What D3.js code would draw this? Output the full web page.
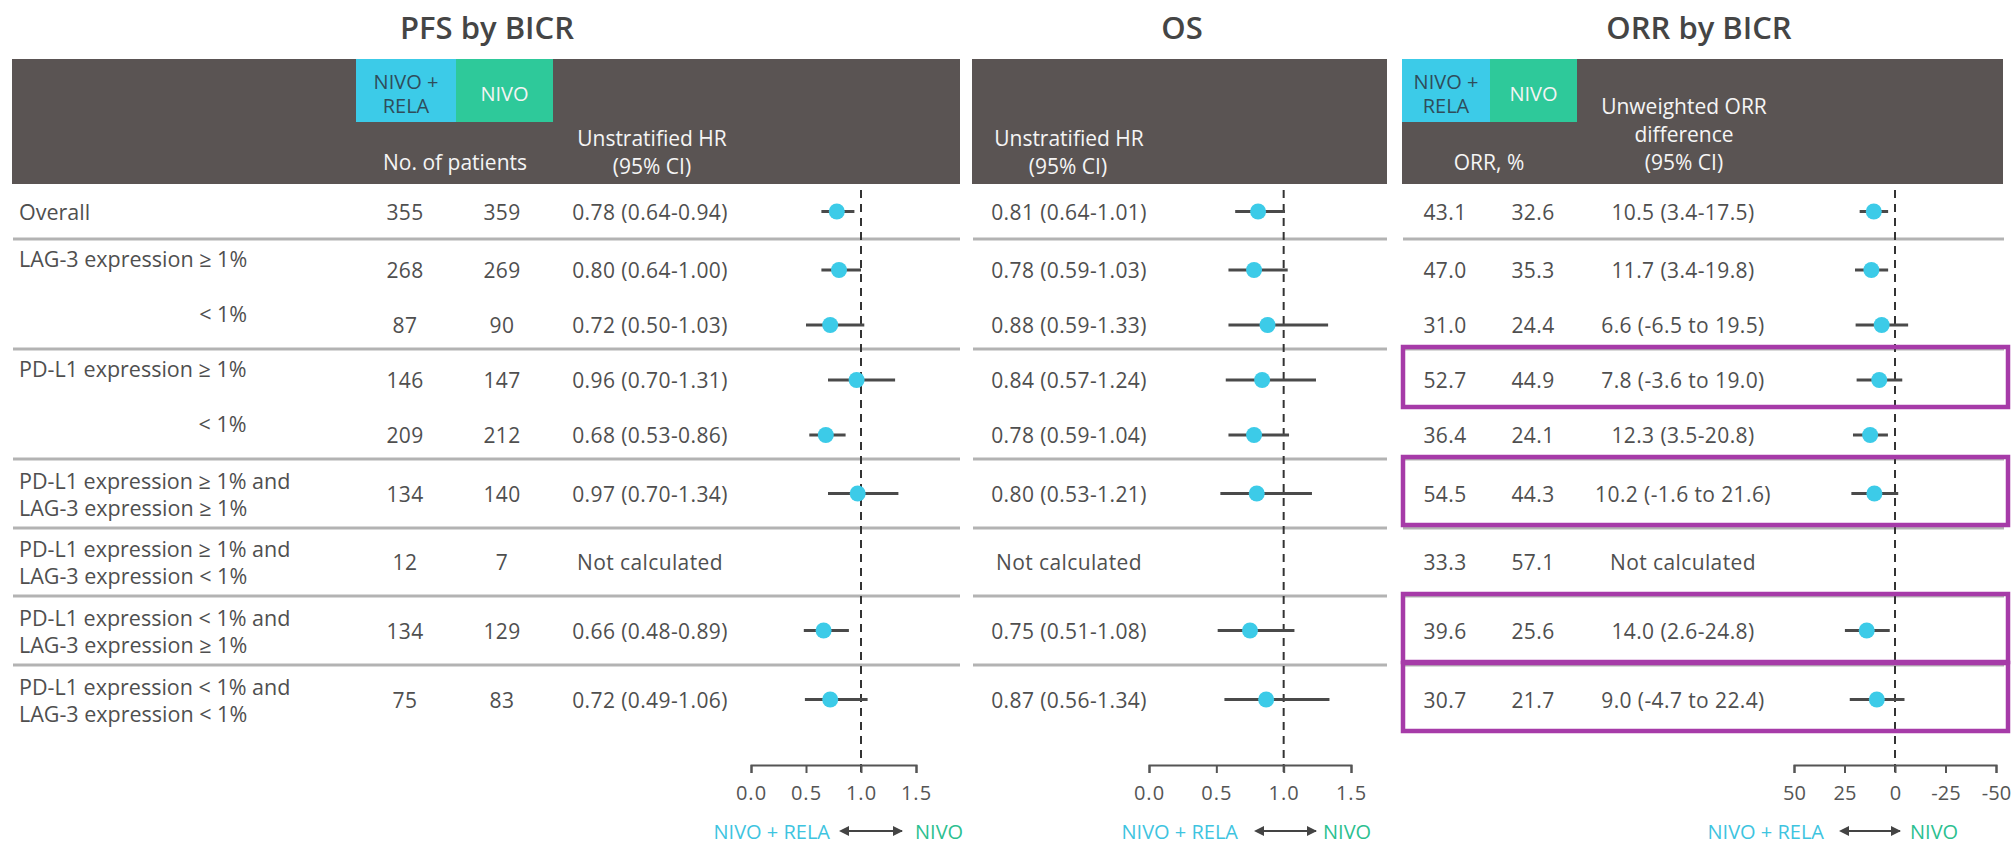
<!DOCTYPE html>
<html>
<head>
<meta charset="utf-8">
<script src="https://cdn.jsdelivr.net/npm/d3@7"></script>
<style>
  html, body { margin: 0; padding: 0; background: #fff; }
  svg { display: block; font-family: "Open Sans", "Noto Sans", sans-serif; }
</style>
</head>
<body>
<svg id="chart" width="2013" height="846"></svg>
<script>
// ---- Data ---------------------------------------------------------------
const rowLabels = [
  ["Overall"],
  ["LAG-3 expression \u2265 1%"],
  ["< 1%"],
  ["PD-L1 expression \u2265 1%"],
  ["< 1%"],
  ["PD-L1 expression \u2265 1% and", "LAG-3 expression \u2265 1%"],
  ["PD-L1 expression \u2265 1% and", "LAG-3 expression < 1%"],
  ["PD-L1 expression < 1% and", "LAG-3 expression \u2265 1%"],
  ["PD-L1 expression < 1% and", "LAG-3 expression < 1%"]
];
const nNivoRela = [355, 268, 87, 146, 209, 134, 12, 134, 75];
const nNivo     = [359, 269, 90, 147, 212, 140, 7, 129, 83];

const pfsHR = [0.78, 0.80, 0.72, 0.96, 0.68, 0.97, null, 0.66, 0.72];
const pfsLo = [0.64, 0.64, 0.50, 0.70, 0.53, 0.70, null, 0.48, 0.49];
const pfsHi = [0.94, 1.00, 1.03, 1.31, 0.86, 1.34, null, 0.89, 1.06];

const osHR = [0.81, 0.78, 0.88, 0.84, 0.78, 0.80, null, 0.75, 0.87];
const osLo = [0.64, 0.59, 0.59, 0.57, 0.59, 0.53, null, 0.51, 0.56];
const osHi = [1.01, 1.03, 1.33, 1.24, 1.04, 1.21, null, 1.08, 1.34];

const orrNivoRela = [43.1, 47.0, 31.0, 52.7, 36.4, 54.5, 33.3, 39.6, 30.7];
const orrNivo     = [32.6, 35.3, 24.4, 44.9, 24.1, 44.3, 57.1, 25.6, 21.7];
const orrDiff = [10.5, 11.7, 6.6, 7.8, 12.3, 10.2, null, 14.0, 9.0];
const orrLo   = [3.4, 3.4, -6.5, -3.6, 3.5, -1.6, null, 2.6, -4.7];
const orrHi   = [17.5, 19.8, 19.5, 19.0, 20.8, 21.6, null, 24.8, 22.4];

const hrTicks  = [0, 0.5, 1.0, 1.5];
const orrTicks = [50, 25, 0, -25, -50];
const highlightedRows = [3, 5, 7, 8];
const subRows = [1, 2, 3, 4];          // rows sharing a subgroup block
const separatorsAfter = [0, 2, 4, 5, 6, 7];

// ---- Styles -------------------------------------------------------------
const C = {
  header: "#5a5453",
  cyan: "#3ccbe8",
  green: "#2ec99a",
  text: "#4f4f4f",
  rule: "#b3b3b3",
  ci: "#4a4a4a",
  purple: "#a63ba8",
  legendCyan: "#3ec4df",
  legendGreen: "#2cbf90"
};

const svg = d3.select("#chart");
svg.append("rect").attr("width", 2013).attr("height", 846).attr("fill", "#fff");

// ---- Row geometry -------------------------------------------------------
const headerTop = 59, headerBottom = 184;
const rowHeights = [55, 55, 55, 55, 55, 69, 68, 69, 69];
const slotTop = [];
{ let y = headerBottom; rowHeights.forEach(h => { slotTop.push(y); y += h; }); }
const slotBottom = slotTop.map((t, i) => t + rowHeights[i]);
const rowY = slotTop.map((t, i) => t + rowHeights[i] / 2 + (subRows.includes(i) ? 3.5 : 0));

// Panels
const panels = [
  { x0: 12,   x1: 960,  title: "PFS by BICR", titleX: 487 },
  { x0: 972,  x1: 1387, title: "OS",          titleX: 1182 },
  { x0: 1402, x1: 2003, title: "ORR by BICR", titleX: 1699 }
];

// Scales
const xPfs = d3.scaleLinear().domain([0, 1.5]).range([751, 916]);
const xOs  = d3.scaleLinear().domain([0, 1.5]).range([1149, 1351]);
const xOrr = d3.scaleLinear().domain([50, -50]).range([1794, 1996]);

// ---- Titles & header bands ---------------------------------------------
panels.forEach(p => {
  svg.append("text").attr("x", p.titleX).attr("y", 39)
    .attr("text-anchor", "middle").attr("font-size", 31).attr("font-weight", 600)
    .attr("fill", "#454545").text(p.title);
  svg.append("rect").attr("x", p.x0).attr("y", headerTop)
    .attr("width", p.x1 - p.x0).attr("height", headerBottom - headerTop)
    .attr("fill", C.header);
});

function swatches(xStart, wCyan, wGreen) {
  svg.append("rect").attr("x", xStart).attr("y", headerTop).attr("width", wCyan)
    .attr("height", 63).attr("fill", C.cyan);
  svg.append("rect").attr("x", xStart + wCyan).attr("y", headerTop).attr("width", wGreen)
    .attr("height", 63).attr("fill", C.green);
  const cx = xStart + wCyan / 2;
  [["NIVO +", 81], ["RELA", 105]].forEach(([t, y]) =>
    svg.append("text").attr("x", cx).attr("y", y).attr("text-anchor", "middle")
      .attr("dominant-baseline", "central").attr("font-size", 20)
      .attr("fill", "#2f4d5b").text(t));
  svg.append("text").attr("x", xStart + wCyan + wGreen / 2).attr("y", 93)
    .attr("text-anchor", "middle").attr("dominant-baseline", "central")
    .attr("font-size", 20).attr("fill", "#f4f4f4").text("NIVO");
}
swatches(356, 100, 97);
swatches(1402, 88, 87);

function headText(x, y, t) {
  svg.append("text").attr("x", x).attr("y", y).attr("text-anchor", "middle")
    .attr("dominant-baseline", "central").attr("font-size", 21)
    .attr("fill", "#f5f5f5").text(t);
}
headText(455, 162, "No. of patients");
headText(652, 138, "Unstratified HR");
headText(652, 166, "(95% CI)");
headText(1069, 138, "Unstratified HR");
headText(1068, 166, "(95% CI)");
headText(1489, 162, "ORR, %");
headText(1684, 106, "Unweighted ORR");
headText(1684, 134, "difference");
headText(1684, 162, "(95% CI)");

// ---- Separators -------------------------------------------------------
separatorsAfter.forEach(i => {
  const y = slotBottom[i];
  panels.forEach((p, pi) => {
    svg.append("line").attr("x1", p.x0 + 1).attr("x2", p.x1 + (pi === 2 ? 1 : 0))
      .attr("y1", y).attr("y2", y).attr("stroke", C.rule).attr("stroke-width", 3);
  });
});

// ---- Row labels ---------------------------------------------------------
const labelG = svg.append("g").attr("font-size", 21.5).attr("fill", C.text);
let groupEnd = 0;
rowLabels.forEach((lines, i) => {
  const multi = lines.length > 1;
  const base = subRows.includes(i) ? rowY[i] - 12 : rowY[i];
  lines.forEach((t, k) => {
    const y = multi ? base + (k - 0.5) * 27 : base;
    const el = labelG.append("text").attr("y", y).attr("dominant-baseline", "central").text(t);
    if (t.startsWith("<")) {
      el.attr("x", groupEnd).attr("text-anchor", "end");
    } else {
      el.attr("x", 19);
      groupEnd = 19 + el.node().getComputedTextLength();
    }
  });
});

// ---- Value columns ------------------------------------------------------
const valG = svg.append("g").attr("font-size", 21).attr("fill", C.text)
  .attr("text-anchor", "middle").attr("letter-spacing", 0.4);
function cell(x, y, t) {
  valG.append("text").attr("x", x).attr("y", y).attr("dominant-baseline", "central").text(t);
}
const fmtHR = (h, l, u) => h == null ? "Not calculated"
  : `${h.toFixed(2)} (${l.toFixed(2)}-${u.toFixed(2)})`;
const fmtORR = (d, l, u) => d == null ? "Not calculated"
  : (l < 0 ? `${d.toFixed(1)} (${l.toFixed(1)} to ${u.toFixed(1)})`
           : `${d.toFixed(1)} (${l.toFixed(1)}-${u.toFixed(1)})`);

rowY.forEach((y, i) => {
  cell(405, y, nNivoRela[i]);
  cell(502, y, nNivo[i]);
  cell(650, y, fmtHR(pfsHR[i], pfsLo[i], pfsHi[i]));
  cell(1069, y, fmtHR(osHR[i], osLo[i], osHi[i]));
  cell(1445, y, orrNivoRela[i].toFixed(1));
  cell(1533, y, orrNivo[i].toFixed(1));
  cell(1683, y, fmtORR(orrDiff[i], orrLo[i], orrHi[i]));
});

// ---- Forest plots -------------------------------------------------------
function forest(x, est, lo, hi, ref, ticks, fmt, spacing) {
  // reference line
  svg.append("line").attr("x1", x(ref)).attr("x2", x(ref))
    .attr("y1", 190).attr("y2", 778)
    .attr("stroke", "#333").attr("stroke-width", 2).attr("stroke-dasharray", "8,6");
  const g = svg.append("g");
  est.forEach((e, i) => {
    if (e == null) return;
    g.append("line").attr("x1", x(lo[i])).attr("x2", x(hi[i]))
      .attr("y1", rowY[i]).attr("y2", rowY[i])
      .attr("stroke", C.ci).attr("stroke-width", 3);
    g.append("circle").attr("cx", x(e)).attr("cy", rowY[i]).attr("r", 8)
      .attr("fill", C.cyan);
  });
  const axis = d3.axisBottom(x).tickValues(ticks).tickFormat(fmt)
    .tickSize(8).tickSizeOuter(8).tickPadding(13);
  const ag = svg.append("g").attr("transform", "translate(0,765)").call(axis);
  ag.selectAll("path, line").attr("stroke", "#555").attr("stroke-width", 2);
  ag.selectAll("text").attr("font-size", 20).attr("fill", "#555")
    .attr("font-family", "Open Sans, sans-serif").attr("letter-spacing", spacing);
}
forest(xPfs, pfsHR, pfsLo, pfsHi, 1, hrTicks, d3.format(".1f"), 1);
forest(xOs, osHR, osLo, osHi, 1, hrTicks, d3.format(".1f"), 1);
forest(xOrr, orrDiff, orrLo, orrHi, 0, orrTicks, d => String(d), 0);

// ---- Highlight boxes ---------------------------------------------------
highlightedRows.forEach(i => {
  const top = slotTop[i] - 2;
  const bottom = slotBottom[i] - 3 + (subRows.includes(i) ? 6 : 0);
  svg.append("rect").attr("x", 1403).attr("y", top)
    .attr("width", 2008 - 1403).attr("height", bottom - top)
    .attr("fill", "none").attr("stroke", C.purple).attr("stroke-width", 4.5);
});

// ---- Direction legends ----------------------------------------------------
const defs = svg.append("defs");
["start", "end"].forEach(k => {
  defs.append("marker").attr("id", "arr-" + k).attr("viewBox", "0 0 10 10")
    .attr("refX", k === "end" ? 9 : 1).attr("refY", 5)
    .attr("markerWidth", 5).attr("markerHeight", 5).attr("orient", "auto-start-reverse")
    .append("path").attr("d", "M0,0 L10,5 L0,10 z").attr("fill", "#444");
});
function legend(endRela, a0, a1, startNivo) {
  const y = 831;
  svg.append("text").attr("x", endRela).attr("y", y).attr("text-anchor", "end")
    .attr("dominant-baseline", "central").attr("font-size", 20)
    .attr("fill", C.legendCyan).text("NIVO + RELA");
  svg.append("line").attr("x1", a0).attr("x2", a1).attr("y1", y).attr("y2", y)
    .attr("stroke", "#444").attr("stroke-width", 2)
    .attr("marker-start", "url(#arr-start)").attr("marker-end", "url(#arr-end)");
  svg.append("text").attr("x", startNivo).attr("y", y)
    .attr("dominant-baseline", "central").attr("font-size", 20)
    .attr("fill", C.legendGreen).text("NIVO");
}
legend(830, 848, 902, 915);
legend(1238, 1263, 1316, 1323);
legend(1824, 1848, 1900, 1910);
</script>
</body>
</html>
